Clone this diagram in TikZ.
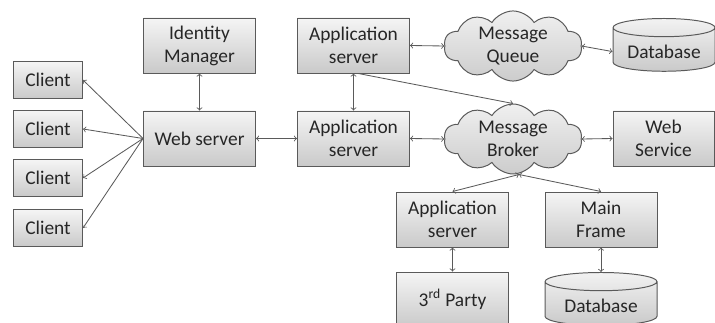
\documentclass[tikz,border=0pt]{standalone}
\usepackage{fontspec}
\setmainfont{Carlito}
\usepackage{tikz}
\usetikzlibrary{shapes.symbols, shapes.geometric, shadows}

\definecolor{edgegray}{HTML}{5A5A5A}
\definecolor{inkgray}{HTML}{262626}

\tikzset{
  box/.style={draw=edgegray, line width=0.7pt, top color=gray!8, bottom color=gray!42,
    minimum width=2.8cm, minimum height=1.375cm, align=center, text=inkgray,
    drop shadow={shadow xshift=0.4pt, shadow yshift=-0.4pt, opacity=0.35}},
  smallbox/.style={box, minimum width=1.725cm, minimum height=0.925cm},
  cloudy/.style={cloud, cloud puffs=10, cloud puff arc=115, aspect=2.1, draw=edgegray,
    line width=0.7pt, top color=gray!12, bottom color=gray!40, align=center, text=inkgray,
    minimum width=3.45cm, minimum height=1.75cm, inner sep=0pt},
  dbase/.style={cylinder, shape border rotate=90, aspect=0.22, draw=edgegray, line width=0.7pt,
    top color=gray!10, bottom color=gray!42, align=center, text=inkgray,
    minimum width=2.55cm, inner ysep=0.19cm}
}

\begin{document}
\begin{tikzpicture}[font=\fontsize{13.8}{16.3}\selectfont, link/.style={draw=edgegray, line width=0.6pt, >=to}]

\useasboundingbox (0,0) rectangle (17.875,8.05);
\clip (0,0) rectangle (17.875,8.05);

% clients and web tier
\node[smallbox] (c1) at (1.2,6.05) {Client};
\node[smallbox] (c2) at (1.2,4.825) {Client};
\node[smallbox] (c3) at (1.2,3.6) {Client};
\node[smallbox] (c4) at (1.2,2.35) {Client};
\node[box] (idm) at (4.9875,6.9125) {Identity\\Manager};
\node[box] (web) at (4.9875,4.5875) {Web server};

% application tier
\node[box] (appt) at (8.8375,6.9125) {Application\\server};
\node[box] (appm) at (8.8375,4.5875) {Application\\server};
\node[cloudy] (mq) at (12.825,6.9) {Message\\Queue};
\node[cloudy] (mb) at (12.825,4.575) {Message\\Broker};
\node[dbase, anchor=north] (dbt) at (16.6,7.6) {Database};
\node[box, minimum width=2.525cm] (wsv) at (16.5875,4.5875) {Web\\Service};

% lower row
\node[box] (appb) at (11.3125,2.5625) {Application\\server};
\node[box] (mf) at (15.025,2.5625) {Main\\Frame};
\node[box] (party) at (11.3125,0.5625) {3\textsuperscript{rd} Party};
\node[dbase, minimum width=2.8cm, anchor=north] (dbb) at (15.025,1.25) {Database};

\foreach \c in {c1,c2,c3,c4}
  \draw[link,->] (web.west) -- (\c.east);
\draw[link,<->] (idm.south) -- (web.north);
\draw[link,<->] (web.east) -- (appm.west);
\draw[link,<->] (appt.south) -- (appm.north);
\draw[link,<->] (appt.east) -- (mq.west);
\draw[link,<->] (mq.east) -- (dbt.west);
\draw[link,->] ([xshift=0.12cm]appt.south) -- (mb.north);
\draw[link,<->] (appm.east) -- (mb.west);
\draw[link,<->] (mb.east) -- (wsv.west);
\draw[link,<->] ([xshift=0.15cm]mb.south) -- (appb.north);
\draw[link,<->] ([xshift=0.15cm]mb.south) -- (mf.north);
\draw[link,<->] (appb.south) -- (party.north);
\draw[link,<->] (mf.south) -- (dbb.north);

\end{tikzpicture}
\end{document}
